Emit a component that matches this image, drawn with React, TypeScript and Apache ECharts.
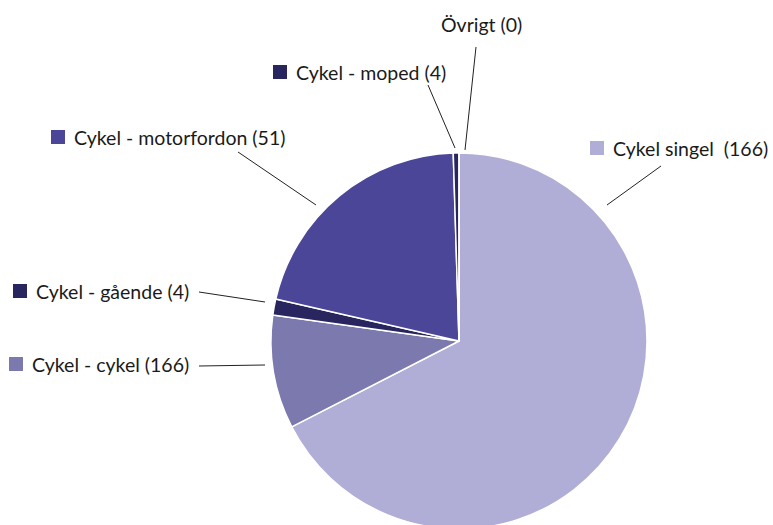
import React, { useEffect, useRef } from "react";
import * as echarts from "echarts";

const categories = ["Cykel singel", "Cykel - cykel", "Cykel - gående", "Cykel - motorfordon", "Cykel - moped", "Övrigt"];
const values = [166, 24, 3.4, 51.5, 1.2, 0];
const labelTexts = ["Cykel singel  (166)", "Cykel - cykel (166)", "Cykel - gående (4)", "Cykel - motorfordon (51)", "Cykel - moped (4)", "Övrigt (0)"];
const colors = ["#B0AED6", "#7B79AE", "#29265F", "#4C4699", "#29265F", "#B0AED6"];

// label layout (left x, middle y) and leader line endpoints
const labelPos: [number, number][] = [[590, 148], [9, 364], [13, 291], [51, 137], [273, 72], [441, 24]];
const linePts: [number, number][][] = [
  [[607, 205], [661, 166]],
  [[265, 365], [199, 366]],
  [[265, 302], [199, 292]],
  [[316, 205], [238, 152]],
  [[455, 148], [428, 85]],
  [[465, 150], [476, 47]],
];

export default function App() {
  const ref = useRef<HTMLDivElement>(null);
  useEffect(() => {
    const chart = echarts.init(ref.current!, null, { renderer: "svg" });
    const data = categories.map((name, i) => ({
      name,
      value: values[i],
      itemStyle: { color: colors[i] },
      label: {
        formatter: i === 5 ? `{t|${labelTexts[i]}}` : `{sq|}{t|${labelTexts[i]}}`,
        rich: {
          sq: { width: 14, height: 14, backgroundColor: colors[i] },
          t: { fontFamily: "Lato", fontSize: 19.5, color: "#1a1a1a", padding: i === 5 ? 0 : [0, 0, 0, 9] },
        },
      },
    }));
    chart.setOption({
      animation: false,
      series: [
        {
          type: "pie",
          center: [459, 341],
          radius: 188,
          startAngle: 90,
          clockwise: true,
          avoidLabelOverlap: false,
          stillShowZeroSum: true,
          itemStyle: { borderColor: "#ffffff", borderWidth: 1.5 },
          label: { show: true, position: "outside" },
          labelLine: { show: true, length: 10, length2: 10, lineStyle: { color: "#222", width: 1 } },
          labelLayout: (p: any) => {
            const i = p.dataIndex;
            const pts = linePts[i];
            return {
              x: labelPos[i][0],
              y: labelPos[i][1],
              align: "left",
              verticalAlign: "middle",
              labelLinePoints: [pts[0], pts[1], pts[1]],
            };
          },
          emphasis: { disabled: true },
          data,
        },
      ],
    });
    return () => chart.dispose();
  }, []);
  return <div ref={ref} style={{ position: "fixed", left: 0, top: 0, width: 773, height: 525, background: "#fff" }} />;
}
